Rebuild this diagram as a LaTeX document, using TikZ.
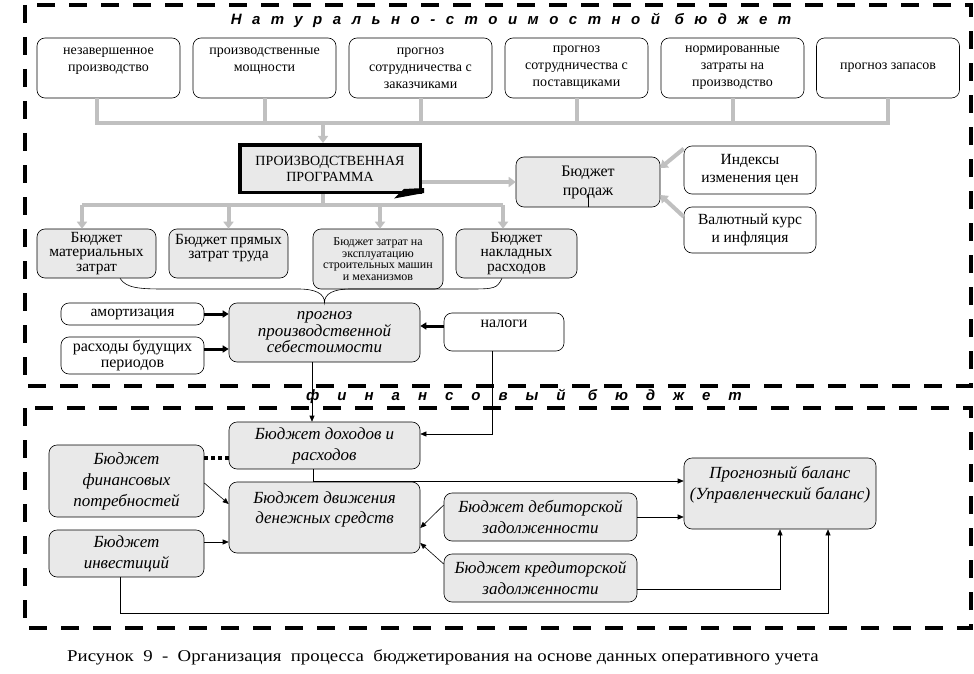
\documentclass[tikz,border=0pt]{standalone}
\usepackage{fontspec}
\setmainfont{Liberation Serif}
\newfontfamily\razdelfont[LetterSpace=70]{Liberation Sans}
\newfontfamily\finfont[LetterSpace=120]{Liberation Sans}
\usetikzlibrary{arrows.meta,backgrounds}

\definecolor{fonseryj}{RGB}{233,233,233}
\definecolor{liniyaseraya}{RGB}{192,192,192}

\begin{document}
\begin{tikzpicture}[x=1pt,y=-1pt,
  blok/.style={draw, line width=0.6pt, rounded corners=8pt, align=center, inner sep=1pt},
  belyj/.style={blok, fill=white, font=\fontsize{14}{17}\selectfont},
  seryj/.style={blok, fill=fonseryj, font=\fontsize{15.5}{14.5}\selectfont},
  kursiv/.style={blok, fill=fonseryj, font=\fontsize{17}{21}\selectfont\itshape},
  podacha/.style={draw=liniyaseraya, line width=4pt},
  podachastr/.style={podacha, -{Triangle[width=10pt,length=7pt]}},
  svyaz/.style={draw, line width=0.6pt, -{Triangle[width=5pt,length=6pt]}},
  zhirn/.style={draw, line width=3pt, -{Triangle[width=7pt,length=6pt]}},
  ramka/.style={draw, line width=3.5pt, dash pattern=on 18pt off 14pt}]
  \useasboundingbox (0,0) rectangle (974,674);
  \fill[white] (0,0) rectangle (974,674);

  % рамки двух бюджетов
  \draw[ramka] (25,5) rectangle (971,386);
  \draw[ramka] (25,408) rectangle (971,628);
  \node[font=\razdelfont\bfseries\itshape\fontsize{15}{16}\selectfont] (zagolovok) at (511,20) {Натурально-стоимостной бюджет};
  \node[font=\finfont\bfseries\itshape\fontsize{15}{16}\selectfont] (zagolovok2) at (524,396) {финансовый бюджет};

  % верхний ряд исходных данных
  \node[belyj, minimum width=143pt, minimum height=60pt] (nezav) at (108.5,68) {незавершенное\\производство\\~};
  \node[belyj, minimum width=143pt, minimum height=60pt] (moshch) at (264.5,68) {производственные\\мощности\\~};
  \node[belyj, minimum width=143pt, minimum height=60pt] (zakaz) at (420.5,68) {прогноз\\сотрудничества с\\заказчиками};
  \node[belyj, minimum width=143pt, minimum height=60pt] (postav) at (576.5,68) {прогноз\\сотрудничества с\\поставщиками};
  \node[belyj, minimum width=143pt, minimum height=60pt] (normy) at (732.5,68) {нормированные\\затраты на\\производство};
  \node[belyj, minimum width=143pt, minimum height=60pt] (zapasy) at (888,68) {прогноз запасов};

  % производственная программа и бюджет продаж
  \node[blok, rounded corners=0pt, line width=3.5pt, fill=fonseryj, minimum width=180.5pt, minimum height=47.5pt,
    font=\fontsize{14}{16}\selectfont] (proggr) at (330,168.5) {ПРОИЗВОДСТВЕННАЯ\\ПРОГРАММА};
  \fill[black] ([shift={(-28,4.5)}]proggr.south east) -- ([shift={(-18,-5)}]proggr.south east)
    -- ([shift={(2,-6)}]proggr.south east) -- ([shift={(2,-1)}]proggr.south east) -- cycle;
  \node[seryj, minimum width=144pt, minimum height=50pt, font=\fontsize{16}{19}\selectfont] (prodazhi) at (588,182) {Бюджет\\продаж};
  \node[belyj, minimum width=132pt, minimum height=48pt, font=\fontsize{15.5}{18}\selectfont] (indeksy) at (750,170) {Индексы\\изменения цен};
  \node[belyj, minimum width=132pt, minimum height=46pt, font=\fontsize{15.5}{18}\selectfont] (valyuta) at (750,230) {Валютный курс\\и инфляция};

  % бюджеты затрат
  \node[seryj, minimum width=119pt, minimum height=49pt] (bmat) at (96.5,253.5) {Бюджет\\материальных\\затрат};
  \node[seryj, minimum width=119pt, minimum height=49pt] (btrud) at (228.5,253.5) {Бюджет прямых\\затрат труда\\~};
  \node[seryj, minimum width=130pt, minimum height=60pt, font=\fontsize{12}{11.5}\selectfont] (bmash) at (378,259) {Бюджет затрат на\\эксплуатацию\\строительных машин\\и механизмов};
  \node[seryj, minimum width=121pt, minimum height=49pt] (bnakl) at (516.5,253.5) {Бюджет\\накладных\\расходов};

  % себестоимость
  \node[kursiv, minimum width=191pt, minimum height=59pt, font=\fontsize{17}{16.5}\selectfont\itshape] (sebest) at (324.5,332.5) {прогноз\\производственной\\себестоимости};
  \node[belyj, minimum width=143pt, minimum height=22pt, font=\fontsize{15.5}{16}\selectfont] (amort) at (132.5,314) {амортизация};
  \node[belyj, minimum width=143pt, minimum height=37pt, font=\fontsize{16}{16}\selectfont] (rbp) at (132.5,355.5) {расходы будущих\\периодов};
  \node[belyj, minimum width=120pt, minimum height=38pt, font=\fontsize{16}{16}\selectfont] (nalogi) at (504,332) {налоги\\~};

  % финансовый бюджет
  \node[kursiv, minimum width=191pt, minimum height=47pt] (bdr) at (324.5,445.5) {Бюджет доходов и\\расходов};
  \node[kursiv, minimum width=191pt, minimum height=71pt, font=\fontsize{17}{20}\selectfont\itshape] (bdds) at (324.5,517.5) {Бюджет движения\\денежных средств\\~};
  \node[kursiv, minimum width=155pt, minimum height=72pt] (bfin) at (126.5,481) {Бюджет\\финансовых\\потребностей};
  \node[kursiv, minimum width=155pt, minimum height=47pt] (binv) at (126.5,553.5) {Бюджет\\инвестиций};
  \node[kursiv, minimum width=193pt, minimum height=48pt] (bdeb) at (540.5,517) {Бюджет дебиторской\\задолженности};
  \node[kursiv, minimum width=193pt, minimum height=48pt] (bkred) at (540.5,578) {Бюджет кредиторской\\задолженности};
  \node[kursiv, minimum width=192pt, minimum height=71pt] (balans) at (780,493.5) {Прогнозный баланс\\(Управленческий баланс)\\~};

  \node[font=\fontsize{16.5}{18}\selectfont] (podpis) at (443,657) {\scalebox{1.14}[1]{Рисунок~~9~~-~~Организация~~процесса~~бюджетирования на основе данных оперативного учета}};

  % серые стрелки
  \coordinate (shina) at (323,123);
  \draw[podacha] ([xshift=-11.5pt]nezav.south) |- (shina) -| (zapasy.south);
  \foreach \n in {moshch,zakaz,postav,normy}
    \draw[podacha] (\n.south) -- (\n.south |- shina);
  \draw[podachastr] (shina) -- (shina |- proggr.north);
  \coordinate (shina2) at (323,205);
  \draw[podacha] ([xshift=-7pt]proggr.south) -- (shina2);
  \draw[podacha] ([xshift=-14.5pt]bmat.north |- shina2) -- ([xshift=-13.5pt]bnakl.north |- shina2);
  \foreach \n/\s in {bmat/-14.5,btrud/0,bmash/2,bnakl/-13.5}
    \draw[podachastr] ([xshift=\s pt]\n.north |- shina2) -- ([xshift=\s pt]\n.north);
  \draw[podachastr] (proggr.east |- prodazhi.west) -- (prodazhi.west);
  \draw[podachastr] ([yshift=-3pt]indeksy.north west) -- ([yshift=14pt]prodazhi.east);
  \draw[podachastr] ([yshift=-10pt]valyuta.north west) -- ([yshift=-13pt]prodazhi.east);

  % фигурная скобка к себестоимости
  \draw[line width=0.6pt] ([xshift=23.5pt]bmat.south) .. controls +(6,10) and +(-25,0) .. (165,289) -- (298,289)
    .. controls +(18,0) and +(0,-9) .. (sebest.north) .. controls +(0,-9) and +(-18,0) .. (351,289) -- (470,289)
    .. controls +(25,0) and +(-5,10) .. ([xshift=-14.5pt]bnakl.south);

  % черные стрелки
  \draw[zhirn] (amort.east) -- (amort.east -| sebest.west);
  \draw[zhirn] ([yshift=6.5pt]rbp.east) -- ([yshift=6.5pt]rbp.east -| sebest.west);
  \draw[zhirn] ([yshift=6pt]nalogi.west) -- ([yshift=6pt]nalogi.west -| sebest.east);
  \draw[svyaz] ([xshift=-12.5pt]sebest.south) -- ([xshift=-12.5pt]bdr.north);
  \draw[svyaz] ([xshift=-12pt]nalogi.south) |- ([yshift=11.5pt]bdr.east);
  \begin{pgfonlayer}{background}
    \coordinate (povorot) at (588,132);
    \draw[svyaz] ([xshift=24.5pt]zakaz.south) |- (povorot) |- ([yshift=-1.5pt]bdr.east);
  \end{pgfonlayer}
  \draw[line width=0.6pt] (prodazhi.south) -- ([yshift=12pt]prodazhi.south);
  \draw[svyaz] ([xshift=-11.5pt]bdr.south) |- ([yshift=12.5pt]balans.west);
  \draw[line width=3.5pt, dash pattern=on 4pt off 3pt] ([yshift=23pt]bfin.east) -- ([yshift=23pt]bfin.east -| bdr.west);
  \draw[svyaz] ([yshift=-2pt]bfin.east) -- ([yshift=13.5pt]bdds.west);
  \draw[svyaz] ([yshift=11.5pt]binv.east) -- ([yshift=11.5pt]binv.east -| bdds.west);
  \draw[svyaz] ([xshift=-6.5pt]binv.south) -- ++(0,36) -| ([xshift=48pt]balans.south);
  \draw[svyaz] ([yshift=12pt]bdeb.west) -- ([yshift=-10.5pt]bdds.east);
  \draw[svyaz] ([yshift=14pt]bkred.west) -- ([yshift=-25.5pt]bdds.east);
  \draw[svyaz] (bdeb.east) -- (bdeb.east -| balans.west);
  \draw[svyaz] ([yshift=-11pt]bkred.east) -| (balans.south);
\end{tikzpicture}
\end{document}
